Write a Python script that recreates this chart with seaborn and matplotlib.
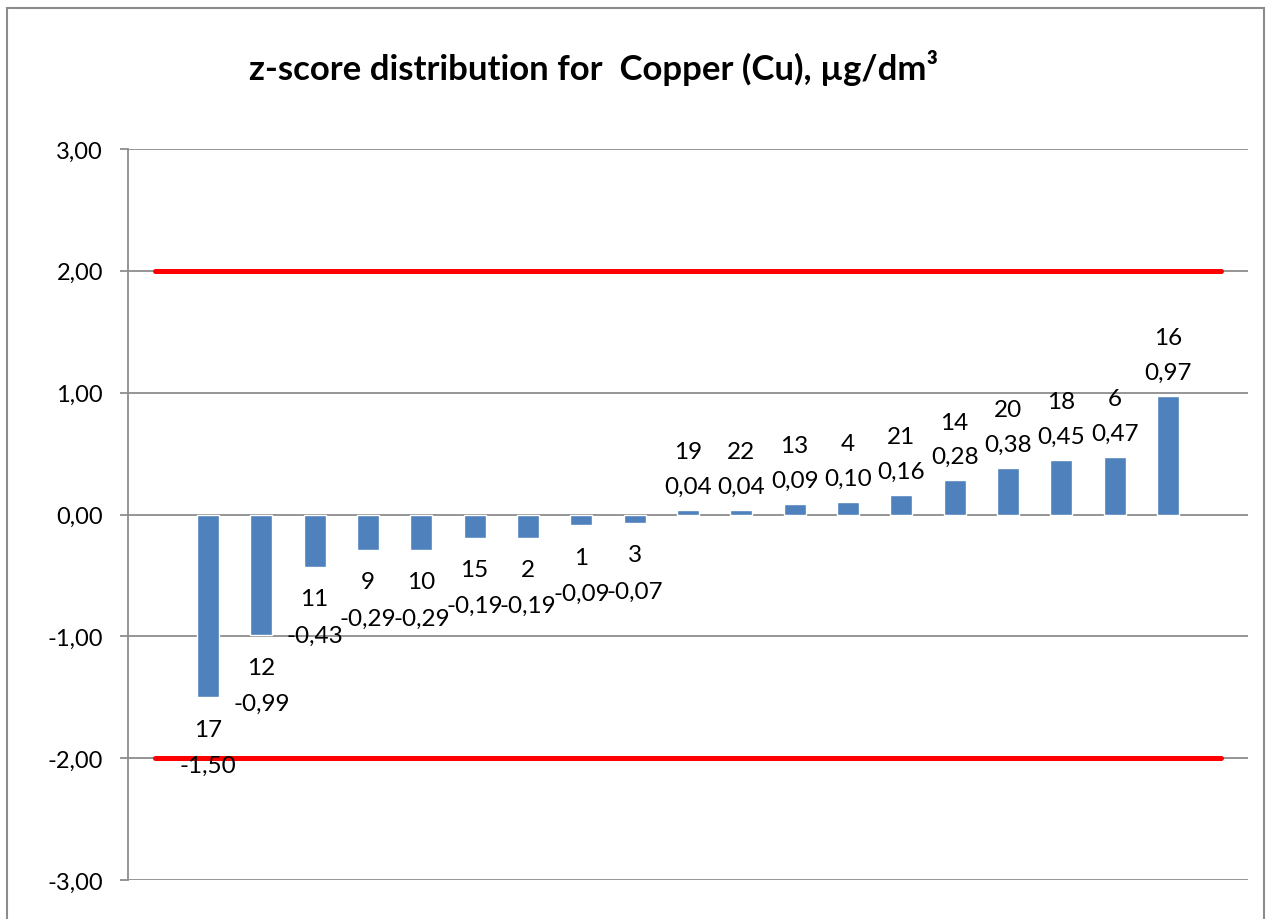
import seaborn as sns
import matplotlib.pyplot as plt
import matplotlib.patches as mpatches
import pandas as pd

sns.set_style("white")
plt.rcParams['font.family'] = ['Lato', 'DejaVu Sans']
plt.rcParams['text.color'] = 'black'
plt.rcParams['ytick.labelcolor'] = 'black'

# данные: номер лаборатории и z-score (слоты по краям пустые)
labs = ['', '17', '12', '11', '9', '10', '15', '2', '1', '3', '19', '22', '13', '4',
        '21', '14', '20', '18', '6', '16', ' ']
zscores = [None, -1.50, -0.99, -0.43, -0.29, -0.29, -0.19, -0.19, -0.09, -0.07, 0.04,
           0.04, 0.09, 0.10, 0.16, 0.28, 0.38, 0.45, 0.47, 0.97, None]
upper_limit = 2.0
lower_limit = -2.0
yticks = [-3, -2, -1, 0, 1, 2, 3]

df = pd.DataFrame({'lab': labs, 'z': zscores})

fig = plt.figure(figsize=(12.69, 9.2), dpi=100)
ax = fig.add_axes([128 / 1269, 1 - 881 / 920, 1120 / 1269, 731 / 920])

sns.barplot(data=df.dropna(), x='lab', y='z', order=labs, color='#4F81BD',
            width=0.41, saturation=1, ax=ax)

xs = list(range(len(labs)))
ax.plot(xs, [upper_limit] * len(xs), color='#FF0000', lw=3.6, solid_capstyle='round', zorder=3)
ax.plot(xs, [lower_limit] * len(xs), color='#FF0000', lw=3.6, solid_capstyle='round', zorder=3)

# подписи: номер и значение
for i, (lab, z) in enumerate(zip(labs, zscores)):
    if z is None:
        continue
    val = f"{z:.2f}".replace('.', ',')
    if z >= 0:
        ax.annotate(val, (i, z), xytext=(0, 17), textcoords='offset points',
                    ha='center', va='center', fontsize=17.5, color='black', zorder=5)
        ax.annotate(lab, (i, z), xytext=(0, 42), textcoords='offset points',
                    ha='center', va='center', fontsize=17.5, color='black', zorder=5)
    else:
        ax.annotate(lab, (i, z), xytext=(0, -23), textcoords='offset points',
                    ha='center', va='center', fontsize=17.5, color='black', zorder=5)
        ax.annotate(val, (i, z), xytext=(0, -49), textcoords='offset points',
                    ha='center', va='center', fontsize=17.5, color='black', zorder=5)

ax.set_xlim(-0.5, len(labs) - 0.5)
ax.set_ylim(-3, 3)
ax.set_yticks(yticks)
ax.set_yticklabels([f"{t:.2f}".replace('.', ',') for t in yticks], fontsize=17, color='black')
ax.yaxis.grid(True, color='#8C8C8C', lw=1.3)
ax.set_axisbelow(True)
ax.set_xticks([])
ax.set_xlabel('')
ax.set_ylabel('')
ax.tick_params(axis='y', left=True, length=6, width=1.3, color='#8C8C8C', pad=12)
for s in ['top', 'right', 'bottom']:
    ax.spines[s].set_visible(False)
ax.spines['left'].set_color('#8C8C8C')
ax.spines['left'].set_linewidth(1.3)

fig.text(594 / 1269, 1 - 68 / 920, 'z-score distribution for  Copper (Cu), µg/dm³',
         ha='center', va='center', fontsize=25, fontweight='bold', color='black')

fig.patches.append(mpatches.Rectangle((7 / 1269, -0.02), 1257 / 1269, 1.02 - 9 / 920,
                                      transform=fig.transFigure, fill=False,
                                      edgecolor='#8C8C8C', lw=1.5))

fig.savefig('out.png', dpi=100)
